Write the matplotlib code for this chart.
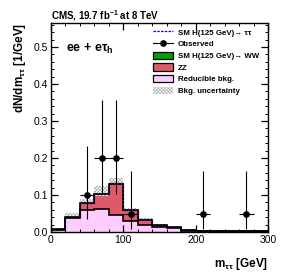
import matplotlib
matplotlib.use("Agg")
import matplotlib.pyplot as plt
from matplotlib.lines import Line2D
from matplotlib.patches import Patch
import numpy as np

plt.rcParams['font.family'] = ['Liberation Sans', 'DejaVu Sans']
plt.rcParams['mathtext.default'] = 'regular'
plt.rcParams['hatch.linewidth'] = 0.35

# binning (GeV)
edges = [0, 20, 40, 60, 80, 100, 120, 140, 160, 180, 200, 220, 240, 260, 280, 300]

# stacked backgrounds, dN/dm per bin
reducible = [0.006, 0.039, 0.060, 0.062, 0.046, 0.030, 0.018, 0.014, 0.010, 0.004, 0.003, 0.003, 0.002, 0.002, 0.002]
zz = [0.001, 0.002, 0.018, 0.041, 0.085, 0.029, 0.014, 0.005, 0.003, 0.001, 0.001, 0.001, 0.001, 0.001, 0.001]
hww = [0.0, 0.0, 0.0, 0.0, 0.0, 0.0, 0.0, 0.0, 0.0, 0.0, 0.0, 0.0, 0.0, 0.0, 0.0]
htt = [0.0, 0.0, 0.0, 0.0, 0.002, 0.002, 0.002, 0.0, 0.0, 0.0, 0.0, 0.0, 0.0, 0.0, 0.0]
band_lo = [0.005, 0.039, 0.076, 0.098, 0.130, 0.056, 0.029, 0.017, 0.011, 0.004, 0.003, 0.003, 0.002, 0.002, 0.002]
band_hi = [0.010, 0.051, 0.089, 0.124, 0.145, 0.066, 0.037, 0.022, 0.015, 0.007, 0.005, 0.005, 0.004, 0.004, 0.004]

# observed data
obs_x = [50, 70, 90, 110, 210, 270]
obs_y = [0.10, 0.20, 0.20, 0.05, 0.05, 0.05]
obs_lo = [0.035, 0.104, 0.104, 0.009, 0.009, 0.009]
obs_hi = [0.232, 0.358, 0.358, 0.165, 0.165, 0.165]

red = '#de5a6a'
pink = '#ffccff'
green = '#00a000'
hatch_col = '#999999'
hatch = 'x' * 10

fig = plt.figure(figsize=(2.83, 2.74), dpi=100)
ax = fig.add_axes([0.180, 0.153, 0.767, 0.763])

e = np.array(edges)
r = np.array(reducible)
s1 = r + np.array(zz)
s2 = s1 + np.array(hww)
s3 = s2 + np.array(htt)

ax.stairs(r, e, fill=True, color=pink)
ax.stairs(s1, e, baseline=r, fill=True, color=red)
ax.stairs(s2, e, baseline=s1, fill=True, color=green)

# uncertainty band
ax.stairs(band_hi, e, baseline=band_lo, fill=True, facecolor='white',
          edgecolor=hatch_col, hatch=hatch, lw=0)

# signal on top of stack, then outlines
ax.stairs(s3, e, color='blue', lw=0.9, ls=(0, (2, 1)))
ax.stairs(r, e, color='black', lw=1.2)
ax.stairs(s1, e, color='black', lw=1.2)

yerr = [np.array(obs_y) - np.array(obs_lo), np.array(obs_hi) - np.array(obs_y)]
ax.errorbar(obs_x, obs_y, yerr=yerr, xerr=10, fmt='o', color='black',
            ms=3.8, lw=0.8, capsize=0)

ax.set_xlim(0, 300)
ax.set_ylim(0, 0.565)
ax.set_xticks([0, 100, 200, 300])
ax.set_yticks([0.0, 0.1, 0.2, 0.3, 0.4, 0.5])
ax.set_yticklabels(['0.0', '0.1', '0.2', '0.3', '0.4', '0.5'])
ax.set_xticks(np.arange(0, 301, 20), minor=True)
ax.set_yticks(np.arange(0, 0.565, 0.02), minor=True)
ax.tick_params(which='both', direction='in', top=True, right=True, labelsize=7.5, pad=2)
ax.tick_params(which='major', length=5, width=0.9)
ax.tick_params(which='minor', length=2.5, width=0.7)
for sp in ax.spines.values():
    sp.set_linewidth(1.0)

ax.set_xlabel(r'm$_{\tau\tau}$ [GeV]', fontsize=8.5, fontweight='bold', loc='right', labelpad=8)
ax.set_ylabel(r'dN/dm$_{\tau\tau}$ [1/GeV]', fontsize=8.5, fontweight='bold', loc='top', labelpad=4)
ax.set_title(r'CMS, 19.7 fb$^{-1}$ at 8 TeV', fontsize=7, fontweight='bold', loc='left', pad=2)
ax.text(0.07, 0.86, r'ee + e$\tau_h$', transform=ax.transAxes, fontsize=9, fontweight='bold')

handles = [
    Line2D([], [], color='blue', ls=(0, (2, 1)), lw=0.9),
    Line2D([], [], color='black', marker='o', ms=3.8, lw=0.8),
    Patch(facecolor=green, edgecolor='black', lw=0.9),
    Patch(facecolor=red, edgecolor='black', lw=0.9),
    Patch(facecolor=pink, edgecolor='black', lw=0.9),
    Patch(facecolor='white', edgecolor=hatch_col, hatch=hatch, lw=0),
]
labels = ['SM H(125 GeV)→ ττ', 'Observed', 'SM H(125 GeV)→ WW', 'ZZ',
          'Reducible bkg.', 'Bkg. uncertainty']
ax.legend(handles, labels, loc='upper left', bbox_to_anchor=(0.468, 0.975), frameon=False,
          prop={'size': 5.7, 'weight': 'bold'}, handlelength=2.6, handleheight=1.05,
          handletextpad=0.6, labelspacing=0.42, borderaxespad=0, borderpad=0)

fig.savefig('out.png', dpi=100)
